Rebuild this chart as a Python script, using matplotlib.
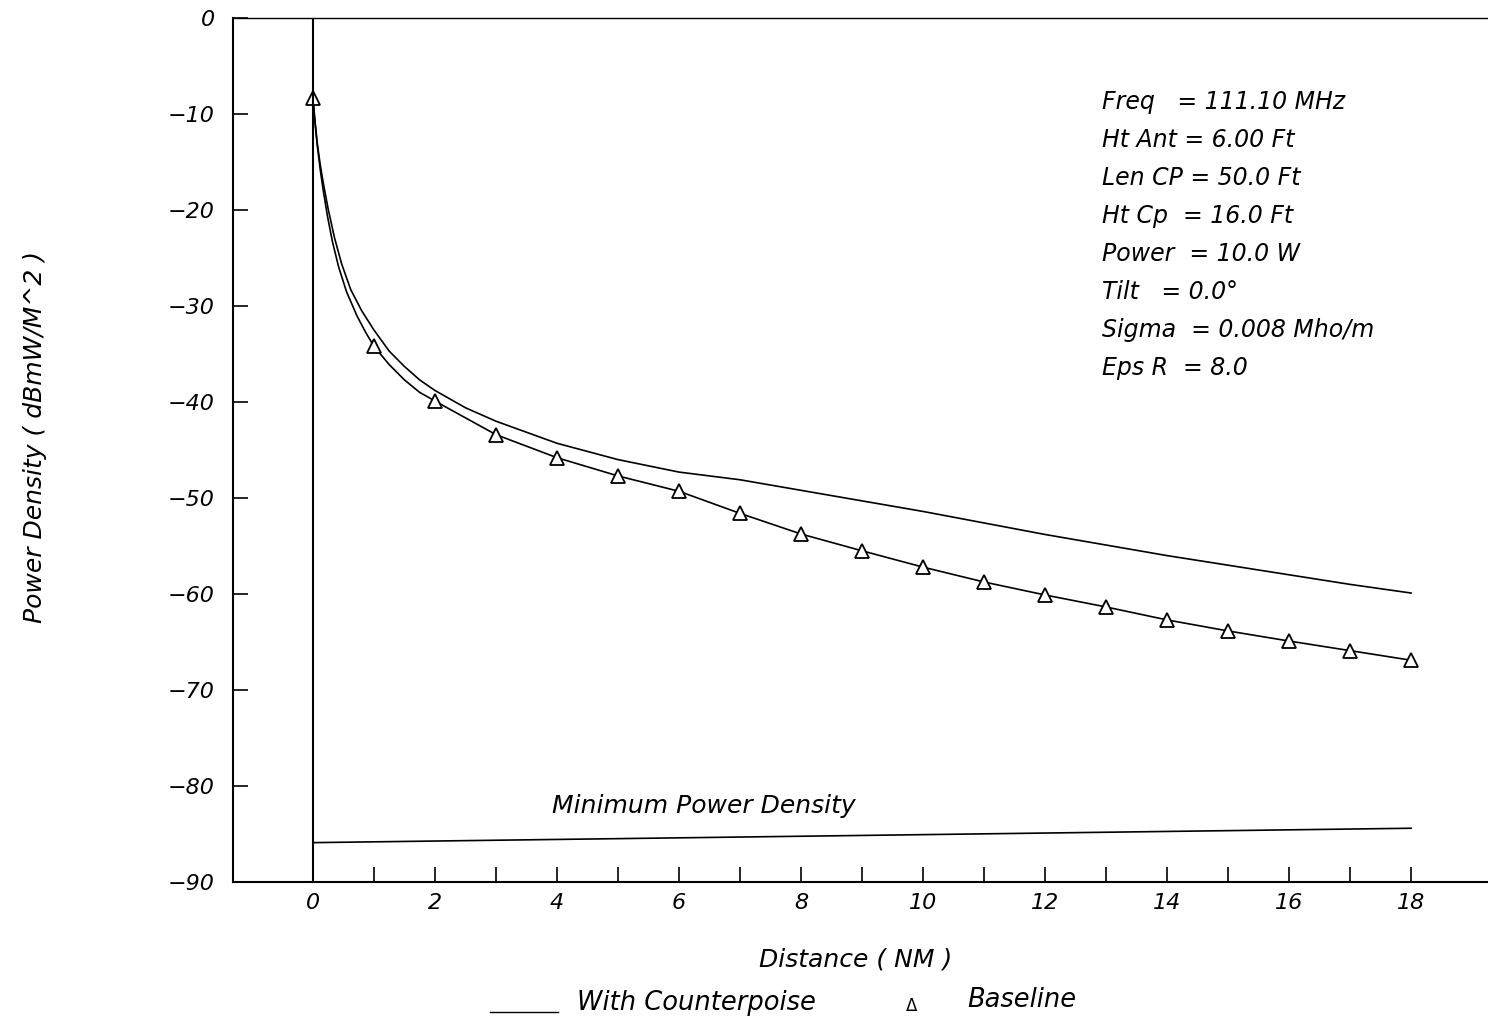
import matplotlib
matplotlib.use('Agg')
import matplotlib.pyplot as plt
from matplotlib.lines import Line2D

plt.rcParams['font.family'] = ['DejaVu Sans']
plt.rcParams['font.style'] = 'italic'

# ---- data ----
counter_x = [0, 0.03, 0.07, 0.12, 0.17, 0.25, 0.35, 0.47, 0.62, 0.8, 1.0, 1.25,
             1.5, 1.75, 2, 2.5, 3, 4, 5, 6, 7, 8, 9, 10, 11, 12, 13, 14, 15,
             16, 17, 18]
counter_y = [-8.3, -10.5, -13.0, -15.3, -17.2, -19.9, -22.8, -25.6, -28.3,
             -30.5, -32.5, -34.7, -36.3, -37.7, -38.8, -40.6, -42.0, -44.3,
             -46.0, -47.3, -48.1, -49.2, -50.3, -51.4, -52.6, -53.8, -54.9,
             -56.0, -57.0, -58.0, -59.0, -59.9]

base_line_x = [0, 0.03, 0.07, 0.12, 0.17, 0.24, 0.32, 0.42, 0.55, 0.72, 0.86,
               1.0, 1.25, 1.5, 1.75, 2, 3, 4, 5, 6, 7, 8, 9, 10, 11, 12, 13,
               14, 15, 16, 17, 18]
base_line_y = [-8.3, -10.6, -13.2, -15.8, -18.0, -20.7, -23.3, -25.9, -28.5,
               -31.0, -32.7, -34.2, -36.1, -37.7, -39.0, -39.9, -43.4, -45.8,
               -47.7, -49.3, -51.6, -53.75, -55.5, -57.2, -58.75, -60.1,
               -61.35, -62.7, -63.85, -64.9, -65.9, -66.9]

base_x = [0, 1, 2, 3, 4, 5, 6, 7, 8, 9, 10, 11, 12, 13, 14, 15, 16, 17, 18]
base_y = [-8.3, -34.2, -39.9, -43.4, -45.8, -47.7, -49.3, -51.6, -53.75, -55.5,
          -57.2, -58.75, -60.1, -61.35, -62.7, -63.85, -64.9, -65.9, -66.9]

min_x = [0, 18]
min_y = [-85.9, -84.4]

params = ['Freq   = 111.10 MHz',
          'Ht Ant = 6.00 Ft',
          'Len CP = 50.0 Ft',
          'Ht Cp  = 16.0 Ft',
          'Power  = 10.0 W',
          'Tilt   = 0.0\u00b0',
          'Sigma  = 0.008 Mho/m',
          'Eps R  = 8.0']

# ---- figure ----
W, H = 1488, 1023
fig = plt.figure(figsize=(W / 100, H / 100), dpi=100)
ax = fig.add_axes([233 / W, 1 - 882 / H, 1 - 233 / W, (882 - 18) / H])

ax.plot(counter_x, counter_y, color='black', lw=1.2)
ax.plot(base_line_x, base_line_y, color='black', lw=1.2)
ax.plot(base_x, base_y, ls='none', marker='^', ms=10, mfc='white',
        mec='black', mew=1.3)
ax.plot(min_x, min_y, color='black', lw=1.2)
ax.axvline(0, color='black', lw=1.5)

ax.set_xlim(-1.31, 19.26)
ax.set_ylim(-90, 0)

ax.set_xticks(range(0, 19, 2))
ax.set_xticks(range(1, 19, 2), minor=True)
ax.set_yticks(range(-90, 1, 10))
ax.tick_params(axis='x', which='both', direction='in', length=11, width=1.2,
               pad=8, labelsize=16)
ax.tick_params(axis='y', direction='in', length=11, width=1.2, pad=13,
               labelsize=16)

for side in ['left', 'bottom']:
    ax.spines[side].set_linewidth(1.5)
ax.spines['top'].set_linewidth(1.0)
ax.spines['right'].set_visible(False)

for i, line in enumerate(params):
    ax.text(12.93, -8.75 - i * 3.96, line, fontsize=17, va='center', ha='left')

ax.text(3.92, -82.1, 'Minimum Power Density', fontsize=18, va='center', ha='left')

fig.text(35 / W, 1 - 437 / H, 'Power Density ( dBmW/M^2 )', rotation=90,
         fontsize=18, va='center', ha='center')
fig.text(856 / W, 1 - 960 / H, 'Distance ( NM )', fontsize=18,
         va='center', ha='center')

# legend drawn below the axis label
fig.add_artist(Line2D([490 / W, 558 / W], [1 - 1012 / H, 1 - 1012 / H],
                      color='black', lw=1.0))
fig.text(577 / W, 1 - 1003 / H, 'With Counterpoise', fontsize=18.5,
         va='center', ha='left')
fig.text(912 / W, 1 - 1006 / H, '\u0394', fontsize=12, va='center',
         ha='center', style='normal')
fig.text(967 / W, 1 - 1000 / H, 'Baseline', fontsize=18.5, va='center', ha='left')

fig.savefig('out.png', dpi=100)
